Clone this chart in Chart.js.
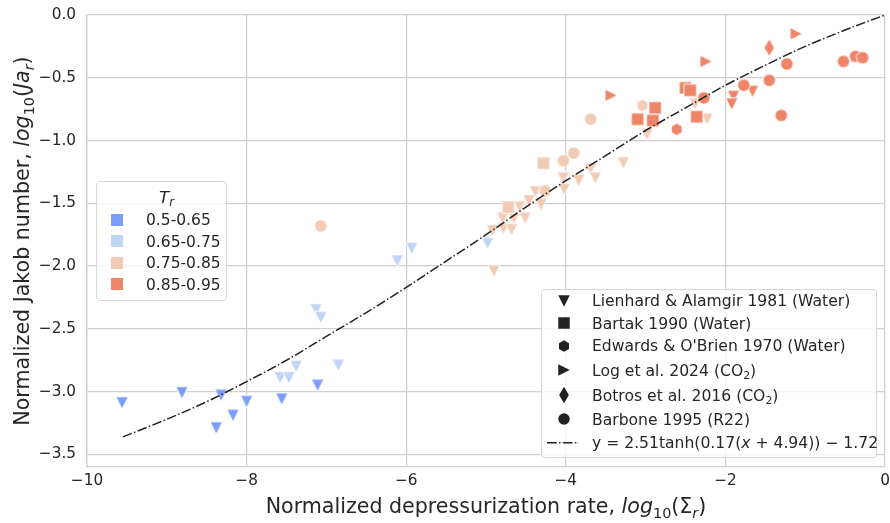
<!DOCTYPE html>
<html>
<head>
<meta charset="utf-8">
<script src="https://cdn.jsdelivr.net/npm/chart.js@4.4.1/dist/chart.umd.min.js"></script>
<style>
  html, body { margin: 0; padding: 0; background: #fff; }
  #wrap { width: 890px; height: 523px; }
</style>
</head>
<body>
<div id="wrap"><canvas id="chart" width="890" height="523"></canvas></div>
<script>
// reduced temperature groups (index used in the *Tr arrays below)
const trLabels = ['0.5-0.65', '0.65-0.75', '0.75-0.85', '0.85-0.95'];

const studyLabels = [
  'Lienhard & Alamgir 1981 (Water)',
  'Bartak 1990 (Water)',
  "Edwards & O'Brien 1970 (Water)",
  'Log et al. 2024 (CO₂)',
  'Botros et al. 2016 (CO₂)',
  'Barbone 1995 (R22)'
];
const fitLabel = 'y = 2.51tanh(0.17(x + 4.94)) − 1.72';

const xTicks = [-10, -8, -6, -4, -2, 0];
const xTickLabels = ['−10', '−8', '−6', '−4', '−2', '0'];
const yTicks = [-3.5, -3.0, -2.5, -2.0, -1.5, -1.0, -0.5, 0.0];
const yTickLabels = ['−3.5', '−3.0', '−2.5', '−2.0', '−1.5', '−1.0', '−0.5', '0.0'];

// Lienhard & Alamgir 1981
const lienhardX = [-9.56, -8.81, -8.32, -8.38, -8.17, -8.00, -7.56, -7.11,
  -7.13, -7.07, -7.38, -7.58, -7.47, -6.85, -6.11, -5.93, -4.98,
  -4.90, -4.92, -4.79, -4.78, -4.68, -4.65, -4.51, -4.58, -4.46, -4.38, -4.31,
  -4.03, -4.02, -3.84, -3.69, -3.63, -3.28, -2.98, -2.23, -2.38,
  -1.90, -1.92, -1.66];
const lienhardY = [-3.09, -3.01, -3.03, -3.29, -3.19, -3.08, -3.06, -2.95,
  -2.35, -2.41, -2.80, -2.89, -2.89, -2.79, -1.96, -1.86, -1.82,
  -2.04, -1.72, -1.62, -1.70, -1.71, -1.62, -1.62, -1.53, -1.48, -1.41, -1.51,
  -1.30, -1.39, -1.32, -1.23, -1.30, -1.18, -0.95, -0.83, -0.71,
  -0.65, -0.71, -0.61];
const lienhardTr = [0, 0, 0, 0, 0, 0, 0, 0,
  1, 1, 1, 1, 1, 1, 1, 1, 1,
  2, 2, 2, 2, 2, 2, 2, 2, 2, 2, 2,
  2, 2, 2, 2, 2, 2, 2, 2, 2,
  3, 3, 3];

// Bartak 1990
const bartakX = [-4.28, -4.72, -3.10, -2.88, -2.91, -2.50, -2.44, -2.36];
const bartakY = [-1.18, -1.53, -0.83, -0.74, -0.84, -0.58, -0.60, -0.81];
const bartakTr = [2, 2, 3, 3, 3, 3, 3, 3];

// Edwards & O'Brien 1970
const edwardsX = [-3.04, -2.61];
const edwardsY = [-0.72, -0.91];
const edwardsTr = [2, 3];

// Log et al. 2024
const logX = [-3.43, -2.24, -1.11];
const logY = [-0.64, -0.37, -0.15];
const logTr = [3, 3, 3];

// Botros et al. 2016
const botrosX = [-1.45];
const botrosY = [-0.26];
const botrosTr = [3];

// Barbone 1995
const barboneX = [-7.07, -4.26, -4.03, -3.90, -3.69, -2.27, -1.77, -1.45, -1.23, -1.30, -0.52, -0.37, -0.28];
const barboneY = [-1.68, -1.40, -1.16, -1.10, -0.83, -0.66, -0.56, -0.52, -0.39, -0.80, -0.37, -0.33, -0.34];
const barboneTr = [2, 2, 2, 2, 2, 3, 3, 3, 3, 3, 3, 3, 3];

// fitted curve
const fitX = [-9.55, -9, -8.5, -8, -7.5, -7, -6.5, -6, -5.5, -5, -4.5, -4, -3.5, -3, -2.5, -2, -1.5, -1, -0.5, 0];
const fitY = [-3.36, -3.22, -3.08, -2.92, -2.75, -2.56, -2.37, -2.17, -1.96, -1.75, -1.53, -1.32, -1.12, -0.92, -0.74, -0.56, -0.40, -0.25, -0.12, 0.0];

const trColors = ['#7b9ff9', '#c0d4f5', '#f2cbb7', '#ee8468'];
const textColor = '#262626';
const gridColor = '#d0d0d0';
const FONT = '"DejaVu Sans", sans-serif';

// matplotlib-like marker drawn once into a small canvas
function markerCanvas(shape, fill, size, edge) {
  const h = size / 2;
  const ext = Math.ceil(size * 0.75 + 2);
  const c = document.createElement('canvas');
  c.width = c.height = ext * 2;
  const g = c.getContext('2d');
  g.translate(ext, ext);
  g.beginPath();
  if (shape === 'o') g.arc(0, 0, h, 0, Math.PI * 2);
  else if (shape === 's') g.rect(-h, -h, size, size);
  else if (shape === 'v') { g.moveTo(-h, -h); g.lineTo(h, -h); g.lineTo(0, h); g.closePath(); }
  else if (shape === '>') { g.moveTo(-h, -h); g.lineTo(h, 0); g.lineTo(-h, h); g.closePath(); }
  else if (shape === 'h') {
    for (let i = 0; i < 6; i++) {
      const a = -Math.PI / 2 + i * Math.PI / 3;
      g.lineTo(h * Math.cos(a), h * Math.sin(a));
    }
    g.closePath();
  } else if (shape === 'd') {
    const d = size * Math.SQRT1_2;
    g.moveTo(0, -d); g.lineTo(d * 0.6, 0); g.lineTo(0, d); g.lineTo(-d * 0.6, 0); g.closePath();
  }
  g.fillStyle = fill;
  g.fill();
  if (edge) { g.strokeStyle = edge; g.lineWidth = 1; g.stroke(); }
  return c;
}

const MS = 12.5;
const shapes = ['v', 's', 'h', '>', 'd', 'o'];
const pointImgs = {};
const legendImgs = {};
shapes.forEach(s => {
  pointImgs[s] = trColors.map(col => markerCanvas(s, col, MS, '#ffffff'));
  legendImgs[s] = markerCanvas(s, '#222222', 11.5, null);
});
const trLegendImgs = trColors.map(col => markerCanvas('s', col, 12, null));

function pts(xs, ys) { return xs.map((x, i) => ({ x, y: ys[i] })); }

function studySet(label, xs, ys, tr, shape) {
  return {
    label,
    data: pts(xs, ys),
    pointStyle: tr.map(g => pointImgs[shape][g]),
    pointRadius: 5,
    pointHoverRadius: 5,
    backgroundColor: tr.map(g => trColors[g]),
    borderWidth: 0
  };
}

const fitDash = [9.6, 2.4, 1.5, 2.4];

// rich text: parts = [[text, style]] style: '' | 'i' | 's' | 'is'
function drawRich(ctx, parts, x, y, size, rot, align) {
  const items = parts.map(([t, st]) => {
    const it = st.includes('i'), sub = st.includes('s');
    const fs = sub ? size * 0.7 : size;
    const font = (it ? 'italic ' : '') + fs + 'px ' + FONT;
    ctx.font = font;
    return { t, font, w: ctx.measureText(t).width, dy: sub ? size * 0.22 : 0 };
  });
  const total = items.reduce((a, m) => a + m.w, 0);
  ctx.save();
  ctx.translate(x, y);
  if (rot) ctx.rotate(rot);
  ctx.fillStyle = textColor;
  ctx.textBaseline = 'alphabetic';
  ctx.textAlign = 'left';
  let cx = align === 'left' ? 0 : -total / 2;
  const base = size * 0.36;
  items.forEach(m => {
    ctx.font = m.font;
    ctx.fillText(m.t, cx, base + m.dy);
    cx += m.w;
  });
  ctx.restore();
}

function richLabel(label) {
  if (label === fitLabel) {
    return [['y = 2.51tanh(0.17(', ''], ['x', 'i'], [' + 4.94)) − 1.72', '']];
  }
  const bits = label.split('₂');
  const out = [];
  bits.forEach((b, i) => {
    if (i > 0) out.push(['2', 's']);
    if (b) out.push([b, '']);
  });
  return out;
}

function legendBox(ctx, x, y, w, h) {
  ctx.save();
  ctx.beginPath();
  ctx.roundRect(x, y, w, h, 3);
  ctx.fillStyle = 'rgba(255,255,255,0.8)';
  ctx.fill();
  ctx.strokeStyle = '#d6d6d6';
  ctx.lineWidth = 1;
  ctx.stroke();
  ctx.restore();
}

function putImg(ctx, img, x, y) {
  ctx.drawImage(img, Math.round(x - img.width / 2), Math.round(y - img.height / 2));
}

const overlay = {
  id: 'overlay',
  afterDraw(chart) {
    const ctx = chart.ctx;
    const a = chart.chartArea;
    // axis titles
    drawRich(ctx, [['Normalized depressurization rate, ', ''], ['log', 'i'], ['10', 's'], ['(Σ', ''], ['r', 'is'], [')', '']],
      (a.left + a.right) / 2, 506, 20.6, 0, 'center');
    drawRich(ctx, [['Normalized Jakob number, ', ''], ['log', 'i'], ['10', 's'], ['(', ''], ['Ja', 'i'], ['r', 'is'], [')', '']],
      22, (a.top + a.bottom) / 2, 20.6, -Math.PI / 2, 'center');

    // T_r legend
    legendBox(ctx, 96.5, 181.5, 130, 119);
    drawRich(ctx, [['T', 'i'], ['r', 'is']], 166.5, 196.5, 16.7, 0, 'center');
    trLabels.forEach((lab, i) => {
      const y = 219.5 + i * 21.6;
      putImg(ctx, trLegendImgs[i], 116.5, y);
      drawRich(ctx, [[lab, '']], 146, y, 15.5, 0, 'left');
    });

    // study legend
    legendBox(ctx, 541.5, 289.5, 335, 168);
    const rows = [300.7, 323.3, 345.7, 370, 395, 419.3, 442.7];
    studyLabels.forEach((lab, i) => {
      putImg(ctx, legendImgs[shapes[i]], 563.5, rows[i]);
      drawRich(ctx, richLabel(lab), 592, rows[i], 15.6, 0, 'left');
    });
    ctx.save();
    ctx.strokeStyle = '#222222';
    ctx.lineWidth = 1.5;
    ctx.setLineDash(fitDash);
    ctx.beginPath();
    ctx.moveTo(547, rows[6]);
    ctx.lineTo(579, rows[6]);
    ctx.stroke();
    ctx.restore();
    drawRich(ctx, richLabel(fitLabel), 592, rows[6], 15.6, 0, 'left');
  }
};

new Chart(document.getElementById('chart'), {
  type: 'scatter',
  data: {
    datasets: [
      {
        label: fitLabel,
        data: pts(fitX, fitY),
        showLine: true,
        borderColor: '#222222',
        borderWidth: 1.5,
        borderDash: fitDash,
        pointRadius: 0,
        cubicInterpolationMode: 'monotone',
        fill: false
      },
      studySet(studyLabels[5], barboneX, barboneY, barboneTr, 'o'),
      studySet(studyLabels[4], botrosX, botrosY, botrosTr, 'd'),
      studySet(studyLabels[3], logX, logY, logTr, '>'),
      studySet(studyLabels[2], edwardsX, edwardsY, edwardsTr, 'h'),
      studySet(studyLabels[1], bartakX, bartakY, bartakTr, 's'),
      studySet(studyLabels[0], lienhardX, lienhardY, lienhardTr, 'v')
    ]
  },
  options: {
    responsive: false,
    animation: false,
    events: [],
    layout: { padding: { top: 15, right: 3, left: 0, bottom: 0 } },
    plugins: {
      legend: { display: false },
      tooltip: { enabled: false }
    },
    scales: {
      x: {
        type: 'linear',
        min: -10,
        max: 0,
        afterBuildTicks: s => { s.ticks = xTicks.map(v => ({ value: v })); },
        afterFit: s => { s.height = 56; s.paddingLeft = 0; s.paddingRight = 0; },
        ticks: {
          callback: (v, i) => xTickLabels[i],
          color: textColor,
          font: { family: FONT, size: 15.3 },
          padding: 5,
          maxRotation: 0
        },
        grid: { color: gridColor, lineWidth: 1.3, drawTicks: false },
        border: { color: gridColor, width: 1.3 }
      },
      y: {
        type: 'linear',
        min: -3.6,
        max: 0,
        afterBuildTicks: s => { s.ticks = yTicks.map(v => ({ value: v })); },
        afterFit: s => { s.width = 87; s.paddingTop = 0; s.paddingBottom = 0; },
        ticks: {
          callback: (v, i) => yTickLabels[i],
          color: textColor,
          font: { family: FONT, size: 15.3 },
          padding: 11
        },
        grid: { color: gridColor, lineWidth: 1.3, drawTicks: false },
        border: { color: gridColor, width: 1.3 }
      }
    }
  },
  plugins: [overlay]
});
</script>
</body>
</html>
